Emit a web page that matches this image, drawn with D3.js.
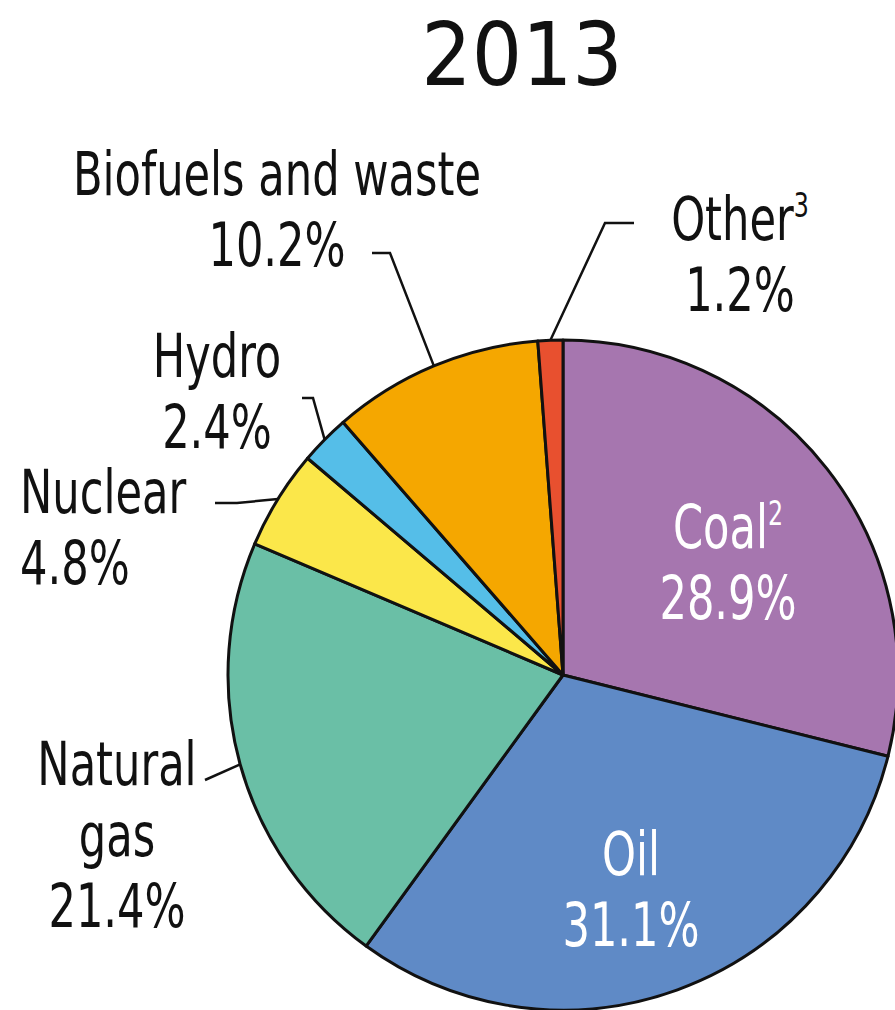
<!DOCTYPE html>
<html><head><meta charset="utf-8">
<script src="https://cdn.jsdelivr.net/npm/d3@7"></script>
<style>body{margin:0;background:#fff;overflow:hidden}</style></head>
<body>
<svg id="c" width="895" height="1010"></svg>
<script>
// ---- data ----
const title = "2013";
const categories = ["Coal", "Oil", "Natural gas", "Nuclear", "Hydro", "Biofuels and waste", "Other"];
const shares = [28.9, 31.1, 21.4, 4.8, 2.4, 10.2, 1.2];
const footnotes = ["2", "", "", "", "", "", "3"];
const colors = ["#A676AF", "#5F8AC6", "#6ABFA6", "#FBE74A", "#55BEE8", "#F5A700", "#E8502F"];

// ---- layout ----
const W = 895, H = 1010;
const cx = 563, cy = 675, R = 335;
const labelFont = "'DejaVu Sans Condensed','DejaVu Sans',sans-serif";
const fs = 60, lh = 71, sx = 0.8;
const layout = {
  "Coal":               {x: 728, y: 548, anchor: "middle", fill: "#fff", lines: ["Coal"]},
  "Oil":                {x: 631, y: 875, anchor: "middle", fill: "#fff", lines: ["Oil"]},
  "Natural gas":        {x: 117, y: 785, anchor: "middle", fill: "#111", lines: ["Natural", "gas"], leader: [[205, 780]]},
  "Nuclear":            {x: 20,  y: 513, anchor: "start",  fill: "#111", lines: ["Nuclear"], leader: [[215, 503], [237, 503]]},
  "Hydro":              {x: 217, y: 377, anchor: "middle", fill: "#111", lines: ["Hydro"], leader: [[302, 398], [313, 398]]},
  "Biofuels and waste": {x: 277, y: 195, anchor: "middle", fill: "#111", lines: ["Biofuels and waste"], leader: [[372, 253], [390, 253]]},
  "Other":              {x: 740, y: 240, anchor: "middle", fill: "#111", lines: ["Other"], leader: [[634, 223], [605, 223]]}
};

const svg = d3.select("#c");
svg.append("rect").attr("width", W).attr("height", H).attr("fill", "#fff");

svg.append("text")
  .attr("x", 522).attr("y", 85)
  .attr("text-anchor", "middle")
  .attr("font-family", labelFont)
  .attr("font-size", 88)
  .attr("fill", "#111")
  .text(title);

const data = categories.map((c, i) => ({name: c, value: shares[i], color: colors[i], sup: footnotes[i]}));
const pie = d3.pie().sort(null).value(d => d.value).startAngle(0).endAngle(2 * Math.PI);
const arcs = pie(data);
const arc = d3.arc().innerRadius(0).outerRadius(R);

const g = svg.append("g").attr("transform", `translate(${cx},${cy})`);
g.selectAll("path.slice").data(arcs).join("path")
  .attr("class", "slice")
  .attr("d", arc)
  .attr("fill", d => d.data.color)
  .attr("stroke", "#111")
  .attr("stroke-width", 3)
  .attr("stroke-linejoin", "round");

// leaders
arcs.forEach(a => {
  const L = layout[a.data.name];
  if (!L.leader) return;
  const mid = (a.startAngle + a.endAngle) / 2;
  const edge = [cx + R * Math.sin(mid), cy - R * Math.cos(mid)];
  const pts = L.leader.concat([edge]);
  svg.append("path")
    .attr("d", d3.line()(pts))
    .attr("fill", "none")
    .attr("stroke", "#111")
    .attr("stroke-width", 2.5);
});

// labels
arcs.forEach(a => {
  const L = layout[a.data.name];
  const t = svg.append("text")
    .attr("text-anchor", L.anchor)
    .attr("font-family", labelFont)
    .attr("font-size", fs)
    .attr("fill", L.fill)
    .attr("transform", `translate(${L.x},0) scale(${sx},1) translate(${-L.x},0)`);
  const lines = L.lines.slice();
  let last;
  lines.forEach((ln, i) => {
    last = t.append("tspan").attr("x", L.x).attr("y", L.y + i * lh).text(ln);
  });
  if (a.data.sup) {
    t.append("tspan")
      .attr("font-size", fs * 0.55).attr("dy", -fs * 0.38).text(a.data.sup);
  }
  t.append("tspan").attr("x", L.x).attr("y", L.y + lines.length * lh)
    .text(d3.format(".1f")(a.data.value) + "%");
});
</script>
</body></html>
